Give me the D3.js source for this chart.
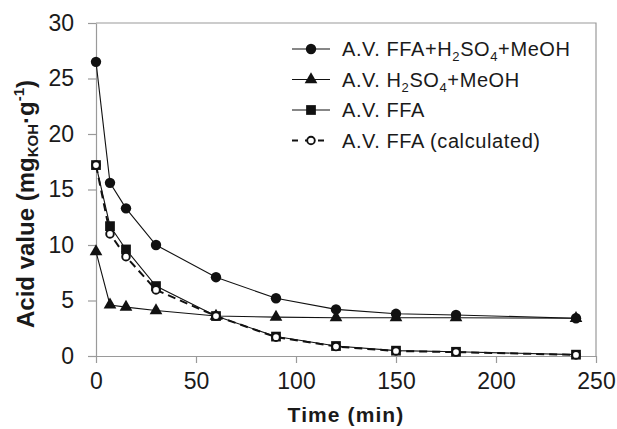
<!DOCTYPE html>
<html>
<head>
<meta charset="utf-8">
<script src="https://cdn.jsdelivr.net/npm/d3@7"></script>
<style>
  html, body { margin: 0; padding: 0; background: #fff; }
  svg { display: block; font-family: "Liberation Sans", Arial, sans-serif; }
</style>
</head>
<body>
<svg id="chart" width="617" height="429"></svg>
<script>
// Reaction time (min)
const times = [0, 7, 15, 30, 60, 90, 120, 150, 180, 240];

// Acid value series (mg KOH/g)
const avFfaAcidMeoh = [26.5, 15.6, 13.3, 10.0, 7.1, 5.2, 4.2, 3.8, 3.7, 3.4];
const avAcidMeoh    = [9.4, 4.6, 4.4, 4.1, 3.6, 3.5, 3.45, 3.45, 3.45, 3.4];
const avFfa         = [17.2, 11.7, 9.6, 6.3, 3.6, 1.75, 0.9, 0.48, 0.38, 0.12];
const avFfaCalc     = [17.2, 11.0, 8.95, 5.95, 3.6, 1.7, 0.85, 0.45, 0.35, 0.1];

const xTicks = [0, 50, 100, 150, 200, 250];
const yTicks = [0, 5, 10, 15, 20, 25, 30];

const svg = d3.select("#chart");
const margin = { left: 96, top: 23, right: 21, bottom: 73 };
const W = 617, H = 429;
const x = d3.scaleLinear().domain([0, 250]).range([margin.left, W - margin.right]);
const y = d3.scaleLinear().domain([0, 30]).range([H - margin.bottom, margin.top]);

const axisColor = "#9a9a9a";
const textColor = "#1a1a1a";

// Plot frame (top and right)
svg.append("path")
  .attr("d", `M${x(0)},${y(30)}H${x(250)}V${y(0)}`)
  .attr("fill", "none").attr("stroke", axisColor).attr("stroke-width", 1.2);

// Axes
const xAxis = svg.append("g")
  .attr("transform", `translate(0,${y(0)})`)
  .call(d3.axisBottom(x).tickValues(xTicks).tickSize(7).tickPadding(10).tickSizeOuter(0));
const yAxis = svg.append("g")
  .attr("transform", `translate(${x(0)},0)`)
  .call(d3.axisLeft(y).tickValues(yTicks).tickSize(8).tickPadding(14).tickSizeOuter(0));

[xAxis, yAxis].forEach(g => {
  g.attr("font-size", null).attr("font-family", null);
  g.select(".domain").attr("stroke", axisColor).attr("stroke-width", 1.2);
  g.selectAll(".tick line").attr("stroke", axisColor).attr("stroke-width", 1.2);
  g.selectAll(".tick text")
    .attr("fill", textColor)
    .attr("font-size", 23)
    .attr("font-family", "Liberation Sans, Arial, sans-serif");
});

// Axis titles
svg.append("text")
  .attr("x", x(125)).attr("y", 421.5)
  .attr("text-anchor", "middle")
  .attr("font-weight", "bold").attr("font-size", 21).attr("letter-spacing", 1.1)
  .attr("fill", textColor)
  .text("Time (min)");

const yTitle = svg.append("text")
  .attr("transform", `translate(34,204) rotate(-90)`)
  .attr("text-anchor", "middle")
  .attr("font-weight", "bold").attr("font-size", 24).attr("fill", textColor);
yTitle.append("tspan").text("Acid value (mg");
yTitle.append("tspan").attr("font-size", 15).attr("dy", 4).text("KOH");
yTitle.append("tspan").attr("dy", -4).text("·g");
yTitle.append("tspan").attr("font-size", 15).attr("dy", -10).text("-1");
yTitle.append("tspan").attr("dy", 10).text(")");

// Series lines
const line = d3.line().x((d, i) => x(times[i])).y(d => y(d));

const series = [
  { values: avFfaAcidMeoh, dash: null, marker: "circle" },
  { values: avAcidMeoh, dash: null, marker: "triangle" },
  { values: avFfa, dash: null, marker: "square" },
  { values: avFfaCalc, dash: "8,5", marker: "open" }
];

const plot = svg.append("g");

series.forEach(s => {
  plot.append("path")
    .datum(s.values)
    .attr("d", line)
    .attr("fill", "none")
    .attr("stroke", "#111")
    .attr("stroke-width", s.dash ? 2 : 1.1)
    .attr("stroke-dasharray", s.dash);
});

const symbolPath = {
  circle: d3.symbol().type(d3.symbolCircle).size(85)(),
  triangle: d3.symbol().type(d3.symbolTriangle).size(70)(),
  square: d3.symbol().type(d3.symbolSquare).size(95)()
};

function drawMarker(g, type, cx, cy) {
  if (type === "open") {
    g.append("circle").attr("cx", cx).attr("cy", cy).attr("r", 3.8)
      .attr("fill", "#fff").attr("stroke", "#111").attr("stroke-width", 1.9);
  } else {
    g.append("path").attr("d", symbolPath[type])
      .attr("transform", `translate(${cx},${cy})`)
      .attr("fill", "#111");
  }
}

series.forEach(s => {
  s.values.forEach((v, i) => drawMarker(plot, s.marker, x(times[i]), y(v)));
});

// Legend
const legendItems = [
  { label: [["A.V. FFA+H", 0], ["2", 1], ["SO", 0], ["4", 1], ["+MeOH", 0]], marker: "circle", dash: null },
  { label: [["A.V. H", 0], ["2", 1], ["SO", 0], ["4", 1], ["+MeOH", 0]], marker: "triangle", dash: null },
  { label: [["A.V. FFA", 0]], marker: "square", dash: null },
  { label: [["A.V. FFA (calculated)", 0]], marker: "open", dash: "6,7" }
];
const legend = svg.append("g");
legendItems.forEach((item, k) => {
  const cy = 49 + k * 30.5;
  legend.append("line")
    .attr("x1", 292).attr("x2", 330).attr("y1", cy).attr("y2", cy)
    .attr("stroke", "#111").attr("stroke-width", item.dash ? 2 : 1.1)
    .attr("stroke-dasharray", item.dash);
  drawMarker(legend, item.marker, 311, cy);
  const t = legend.append("text")
    .attr("x", 342).attr("y", cy + 7)
    .attr("font-size", 20).attr("letter-spacing", 0.6).attr("fill", textColor);
  let shifted = false;
  item.label.forEach(([str, sub]) => {
    const ts = t.append("tspan").text(str);
    if (sub && !shifted) { ts.attr("dy", 5).attr("font-size", 13); shifted = true; }
    else if (sub) { ts.attr("font-size", 13); }
    else if (shifted) { ts.attr("dy", -5); shifted = false; }
  });
});
</script>
</body>
</html>
